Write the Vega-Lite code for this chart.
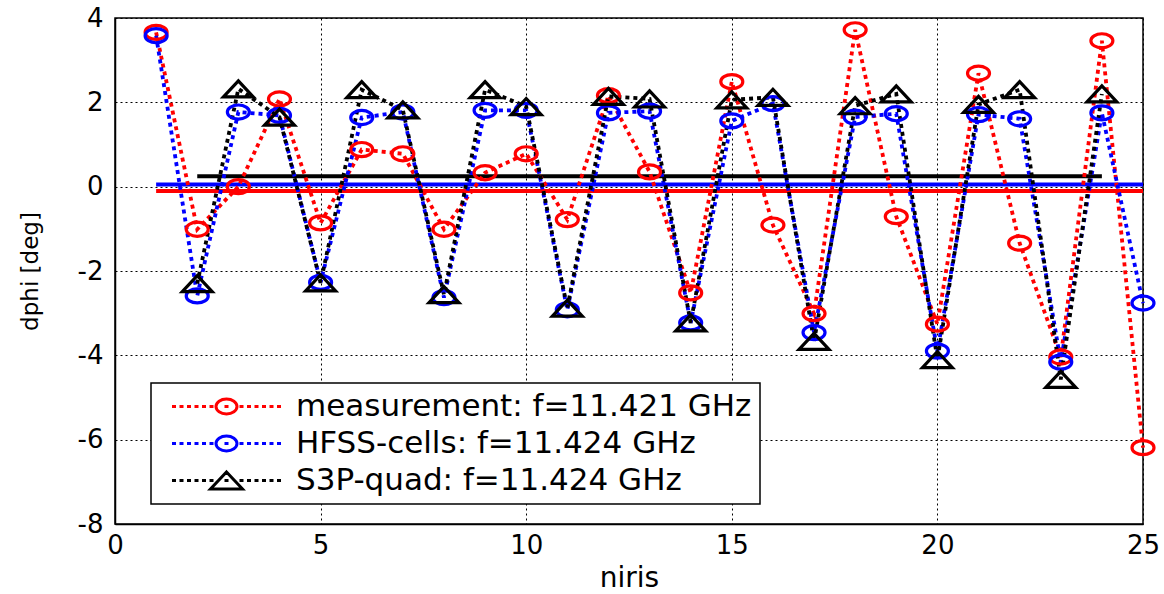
{
  "$schema": "https://vega.github.io/schema/vega-lite/v6.json",
  "width": 1028,
  "height": 506,
  "autosize": {"type": "none"},
  "padding": {"left": 115, "top": 18, "right": 21, "bottom": 70},
  "background": "white",
  "config": {
    "font": "DejaVu Sans",
    "view": {"stroke": "black", "strokeWidth": 1.5},
    "axis": {
      "domainColor": "black", "domainWidth": 1.5, "ticks": false,
      "grid": true, "gridColor": "black", "gridDash": [2, 3], "gridWidth": 1, "gridOpacity": 1,
      "labelColor": "black", "labelFont": "DejaVu Sans", "labelFontSize": 26,
      "labelFlush": false, "labelOverlap": false,
      "titleFont": "DejaVu Sans", "titleColor": "black", "titleFontWeight": "normal"
    }
  },
  "datasets": {
    "phase": [
      {"series": "measurement: f=11.421 GHz", "niris": 1, "dphi": 3.66},
      {"series": "measurement: f=11.421 GHz", "niris": 2, "dphi": -1.01},
      {"series": "measurement: f=11.421 GHz", "niris": 3, "dphi": 0.0},
      {"series": "measurement: f=11.421 GHz", "niris": 4, "dphi": 2.08},
      {"series": "measurement: f=11.421 GHz", "niris": 5, "dphi": -0.86},
      {"series": "measurement: f=11.421 GHz", "niris": 6, "dphi": 0.88},
      {"series": "measurement: f=11.421 GHz", "niris": 7, "dphi": 0.78},
      {"series": "measurement: f=11.421 GHz", "niris": 8, "dphi": -1.01},
      {"series": "measurement: f=11.421 GHz", "niris": 9, "dphi": 0.33},
      {"series": "measurement: f=11.421 GHz", "niris": 10, "dphi": 0.78},
      {"series": "measurement: f=11.421 GHz", "niris": 11, "dphi": -0.78},
      {"series": "measurement: f=11.421 GHz", "niris": 12, "dphi": 2.16},
      {"series": "measurement: f=11.421 GHz", "niris": 13, "dphi": 0.35},
      {"series": "measurement: f=11.421 GHz", "niris": 14, "dphi": -2.52},
      {"series": "measurement: f=11.421 GHz", "niris": 15, "dphi": 2.49},
      {"series": "measurement: f=11.421 GHz", "niris": 16, "dphi": -0.91},
      {"series": "measurement: f=11.421 GHz", "niris": 17, "dphi": -3.01},
      {"series": "measurement: f=11.421 GHz", "niris": 18, "dphi": 3.72},
      {"series": "measurement: f=11.421 GHz", "niris": 19, "dphi": -0.71},
      {"series": "measurement: f=11.421 GHz", "niris": 20, "dphi": -3.26},
      {"series": "measurement: f=11.421 GHz", "niris": 21, "dphi": 2.69},
      {"series": "measurement: f=11.421 GHz", "niris": 22, "dphi": -1.34},
      {"series": "measurement: f=11.421 GHz", "niris": 23, "dphi": -4.04},
      {"series": "measurement: f=11.421 GHz", "niris": 24, "dphi": 3.46},
      {"series": "measurement: f=11.421 GHz", "niris": 25, "dphi": -6.19},
      {"series": "HFSS-cells: f=11.424 GHz", "niris": 1, "dphi": 3.58},
      {"series": "HFSS-cells: f=11.424 GHz", "niris": 2, "dphi": -2.59},
      {"series": "HFSS-cells: f=11.424 GHz", "niris": 3, "dphi": 1.77},
      {"series": "HFSS-cells: f=11.424 GHz", "niris": 4, "dphi": 1.69},
      {"series": "HFSS-cells: f=11.424 GHz", "niris": 5, "dphi": -2.27},
      {"series": "HFSS-cells: f=11.424 GHz", "niris": 6, "dphi": 1.64},
      {"series": "HFSS-cells: f=11.424 GHz", "niris": 7, "dphi": 1.77},
      {"series": "HFSS-cells: f=11.424 GHz", "niris": 8, "dphi": -2.63},
      {"series": "HFSS-cells: f=11.424 GHz", "niris": 9, "dphi": 1.81},
      {"series": "HFSS-cells: f=11.424 GHz", "niris": 10, "dphi": 1.81},
      {"series": "HFSS-cells: f=11.424 GHz", "niris": 11, "dphi": -2.92},
      {"series": "HFSS-cells: f=11.424 GHz", "niris": 12, "dphi": 1.75},
      {"series": "HFSS-cells: f=11.424 GHz", "niris": 13, "dphi": 1.79},
      {"series": "HFSS-cells: f=11.424 GHz", "niris": 14, "dphi": -3.23},
      {"series": "HFSS-cells: f=11.424 GHz", "niris": 15, "dphi": 1.56},
      {"series": "HFSS-cells: f=11.424 GHz", "niris": 16, "dphi": 1.97},
      {"series": "HFSS-cells: f=11.424 GHz", "niris": 17, "dphi": -3.46},
      {"series": "HFSS-cells: f=11.424 GHz", "niris": 18, "dphi": 1.65},
      {"series": "HFSS-cells: f=11.424 GHz", "niris": 19, "dphi": 1.73},
      {"series": "HFSS-cells: f=11.424 GHz", "niris": 20, "dphi": -3.9},
      {"series": "HFSS-cells: f=11.424 GHz", "niris": 21, "dphi": 1.71},
      {"series": "HFSS-cells: f=11.424 GHz", "niris": 22, "dphi": 1.61},
      {"series": "HFSS-cells: f=11.424 GHz", "niris": 23, "dphi": -4.16},
      {"series": "HFSS-cells: f=11.424 GHz", "niris": 24, "dphi": 1.75},
      {"series": "HFSS-cells: f=11.424 GHz", "niris": 25, "dphi": -2.76},
      {"series": "S3P-quad: f=11.424 GHz", "niris": 2, "dphi": -2.3},
      {"series": "S3P-quad: f=11.424 GHz", "niris": 3, "dphi": 2.32},
      {"series": "S3P-quad: f=11.424 GHz", "niris": 4, "dphi": 1.65},
      {"series": "S3P-quad: f=11.424 GHz", "niris": 5, "dphi": -2.28},
      {"series": "S3P-quad: f=11.424 GHz", "niris": 6, "dphi": 2.3},
      {"series": "S3P-quad: f=11.424 GHz", "niris": 7, "dphi": 1.82},
      {"series": "S3P-quad: f=11.424 GHz", "niris": 8, "dphi": -2.56},
      {"series": "S3P-quad: f=11.424 GHz", "niris": 9, "dphi": 2.3},
      {"series": "S3P-quad: f=11.424 GHz", "niris": 10, "dphi": 1.9},
      {"series": "S3P-quad: f=11.424 GHz", "niris": 11, "dphi": -2.88},
      {"series": "S3P-quad: f=11.424 GHz", "niris": 12, "dphi": 2.14},
      {"series": "S3P-quad: f=11.424 GHz", "niris": 13, "dphi": 2.08},
      {"series": "S3P-quad: f=11.424 GHz", "niris": 14, "dphi": -3.23},
      {"series": "S3P-quad: f=11.424 GHz", "niris": 15, "dphi": 2.06},
      {"series": "S3P-quad: f=11.424 GHz", "niris": 16, "dphi": 2.12},
      {"series": "S3P-quad: f=11.424 GHz", "niris": 17, "dphi": -3.67},
      {"series": "S3P-quad: f=11.424 GHz", "niris": 18, "dphi": 1.92},
      {"series": "S3P-quad: f=11.424 GHz", "niris": 19, "dphi": 2.2},
      {"series": "S3P-quad: f=11.424 GHz", "niris": 20, "dphi": -4.1},
      {"series": "S3P-quad: f=11.424 GHz", "niris": 21, "dphi": 1.95},
      {"series": "S3P-quad: f=11.424 GHz", "niris": 22, "dphi": 2.3},
      {"series": "S3P-quad: f=11.424 GHz", "niris": 23, "dphi": -4.57},
      {"series": "S3P-quad: f=11.424 GHz", "niris": 24, "dphi": 2.2}
    ],
    "means": [
      {"series": "measurement: f=11.421 GHz", "start": 1, "end": 25, "dphi": -0.1},
      {"series": "HFSS-cells: f=11.424 GHz", "start": 1, "end": 25, "dphi": 0.05},
      {"series": "S3P-quad: f=11.424 GHz", "start": 2, "end": 24, "dphi": 0.25}
    ]
  },
  "layer": [
    {
      "data": {"name": "means"},
      "mark": {"type": "rule", "strokeWidth": 4},
      "encoding": {
        "x": {"field": "start", "type": "quantitative"},
        "x2": {"field": "end"},
        "y": {"field": "dphi", "type": "quantitative"},
        "color": {
          "field": "series", "type": "nominal",
          "scale": {
            "domain": ["measurement: f=11.421 GHz", "HFSS-cells: f=11.424 GHz", "S3P-quad: f=11.424 GHz"],
            "range": ["#ff0000", "#0000ff", "#000000"]
          },
          "legend": {
            "title": null, "orient": "none", "legendX": 36, "legendY": 365,
            "padding": 8, "strokeColor": "black", "fillColor": "white", "cornerRadius": 0,
            "labelFont": "DejaVu Sans", "labelFontSize": 31, "labelColor": "black", "labelLimit": 0,
            "symbolSize": 400, "symbolStrokeWidth": 3, "symbolOffset": 52, "labelOffset": 54, "rowPadding": 5,
            "encode": {
              "legend": {"update": {"strokeWidth": {"value": 1.5}}},
              "symbols": {
                "update": {
                  "shape": {"signal": "datum.value === 'S3P-quad: f=11.424 GHz' ? 'M-5.45,0H-5.05M-4.7,0H-4.3M-3.95,0H-3.55M-3.2,0H-2.8M-2.45,0H-2.05M-1.7,0H-1.3M-0.2,0H0.2M1.3,0H1.7M2.05,0H2.45M2.8,0H3.2M3.55,0H3.95M4.3,0H4.7M5.05,0H5.45M0,-0.85L1.6,0.85L-1.6,0.85Z' : 'M-5.45,0H-5.05M-4.7,0H-4.3M-3.95,0H-3.55M-3.2,0H-2.8M-2.45,0H-2.05M-1.7,0H-1.3M-0.2,0H0.2M1.3,0H1.7M2.05,0H2.45M2.8,0H3.2M3.55,0H3.95M4.3,0H4.7M5.05,0H5.45M1.05,0A1.05,0.75 0 1,1 -1.05,0A1.05,0.75 0 1,1 1.05,0'"},
                  "fill": {"value": "transparent"},
                  "strokeWidth": {"value": 3},
                  "size": {"value": 400},
                  "opacity": {"value": 1}
                }
              }
            }
          }
        }
      }
    },
    {
      "data": {"name": "phase"},
      "mark": {"type": "line", "strokeDash": [4, 4], "strokeWidth": 3.8},
      "encoding": {
        "x": {
          "field": "niris", "type": "quantitative",
          "scale": {"domain": [0, 25], "nice": false, "zero": false},
          "axis": {"values": [0, 5, 10, 15, 20, 25], "labelPadding": 8, "title": "niris", "titleFontSize": 28, "titlePadding": 6}
        },
        "y": {
          "field": "dphi", "type": "quantitative",
          "scale": {"domain": [-8, 4], "nice": false, "zero": false},
          "axis": {"values": [-8, -6, -4, -2, 0, 2, 4], "labelExpr": "replace(datum.label, '\u2212', '-')", "labelPadding": 12, "title": "dphi [deg]", "titleFontSize": 23, "titlePadding": 35}
        },
        "color": {"field": "series", "type": "nominal"}
      }
    },
    {
      "data": {"name": "phase"},
      "transform": [{"filter": "datum.series !== 'S3P-quad: f=11.424 GHz'"}],
      "mark": {"type": "point", "filled": false, "strokeWidth": 3.2, "size": 484, "opacity": 1, "shape": "M1,0A1,0.64 0 1,1 -1,0A1,0.64 0 1,1 1,0"},
      "encoding": {
        "x": {"field": "niris", "type": "quantitative"},
        "y": {"field": "dphi", "type": "quantitative"},
        "color": {"field": "series", "type": "nominal"}
      }
    },
    {
      "data": {"name": "phase"},
      "transform": [{"filter": "datum.series === 'S3P-quad: f=11.424 GHz'"}],
      "mark": {"type": "point", "filled": false, "strokeWidth": 3.2, "size": 484, "opacity": 1, "shape": "M0,-0.73L1.36,0.73L-1.36,0.73Z"},
      "encoding": {
        "x": {"field": "niris", "type": "quantitative"},
        "y": {"field": "dphi", "type": "quantitative"},
        "color": {"field": "series", "type": "nominal"}
      }
    }
  ]
}
